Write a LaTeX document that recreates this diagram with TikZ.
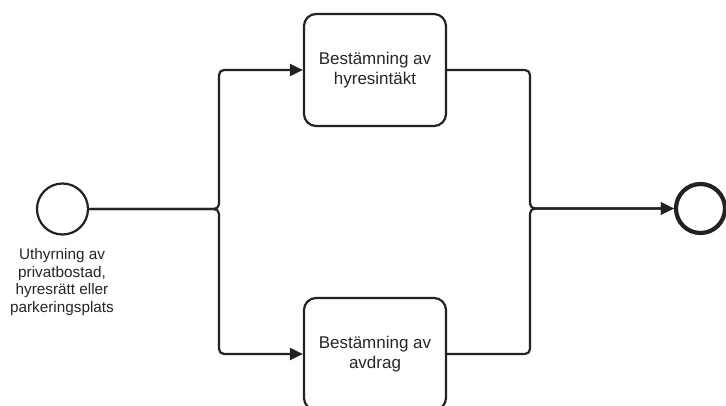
\documentclass[tikz,border=0pt]{standalone}
\usepackage{fontspec}
\setmainfont{Liberation Sans}
\usetikzlibrary{arrows.meta}
\definecolor{ln}{HTML}{222222}
\definecolor{tx}{HTML}{262626}
\begin{document}
\begin{tikzpicture}[x=1pt,y=-1pt,
  conn/.style={draw=ln, line width=2.2pt, rounded corners=5pt},
  arr/.style={-{Triangle[length=13pt,width=12pt]}},
  taskbox/.style={draw=ln, line width=2.2pt, rounded corners=12pt, fill=white,
    minimum width=142pt, minimum height=112pt, align=center, text=tx,
    font=\fontsize{17pt}{20pt}\selectfont, inner sep=0pt},
  evstart/.style={circle, draw=ln, line width=2.2pt, minimum size=51pt, inner sep=0pt, fill=white},
  evend/.style={circle, draw=ln, line width=4.2pt, minimum size=49pt, inner sep=0pt, fill=white},
  lbl/.style={align=center, text=tx, font=\fontsize{15.3pt}{17.5pt}\selectfont, inner sep=0pt}]
\useasboundingbox (0,0) rectangle (726,406);
\fill[white] (0,0) rectangle (726,406);
\clip (0,0) rectangle (726,406);
\node[evstart] (start) at (62.5,209) {};
\node[evend] (end) at (700.5,208.5) {};
\node[taskbox] (top) at (375,70) {Bestämning av\\hyresintäkt};
\node[taskbox] (bot) at (375,354) {Bestämning av\\avdrag};
\node[lbl] (label) at (62,282) {Uthyrning av\\privatbostad,\\hyresrätt eller\\parkeringsplats};
\coordinate (split) at (219,209);
\coordinate (merge) at (530,208.5);
\draw[conn,arr] (start.east) -- (split) |- (top.west);
\draw[conn,arr] (start.east) -- (split) |- (bot.west);
\draw[conn,arr] (top.east) -| (merge) -- (end.west);
\draw[conn,arr] (bot.east) -| (merge) -- (end.west);
\end{tikzpicture}
\end{document}
